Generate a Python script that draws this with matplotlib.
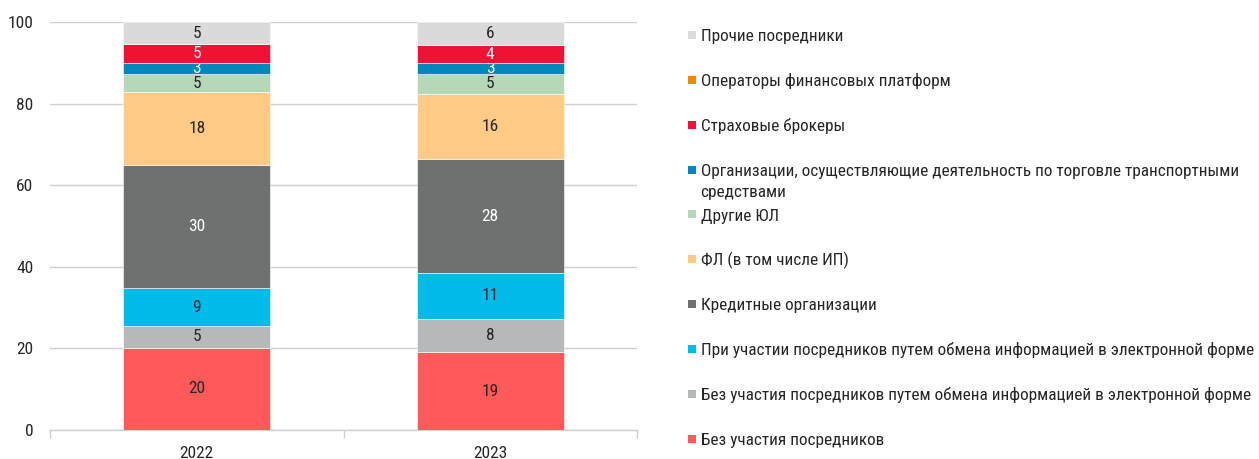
import matplotlib
matplotlib.use('Agg')
import matplotlib.pyplot as plt
from matplotlib import font_manager
import numpy as np

# pick the narrowest installed family
installed = {f.name for f in font_manager.fontManager.ttflist}
candidates = ['Roboto Condensed', 'Liberation Sans Narrow', 'Open Sans Condensed',
              'Noto Sans Display', 'Lato']
family = next((c for c in candidates if c in installed), 'DejaVu Sans')
plt.rcParams['font.family'] = [family, 'DejaVu Sans']

years = ['2022', '2023']

# series from bottom of the stack to the top
series = [
    'Без участия посредников',
    'Без участия посредников путем обмена информацией в электронной форме',
    'При участии посредников путем обмена информацией в электронной форме',
    'Кредитные организации',
    'ФЛ (в том числе ИП)',
    'Другие ЮЛ',
    'Организации, осуществляющие деятельность по торговле транспортными\nсредствами',
    'Страховые брокеры',
    'Операторы финансовых платформ',
    'Прочие посредники',
]
values_2022 = [20.1, 5.4, 9.2, 30.2, 17.9, 4.6, 2.7, 4.6, 0.0, 5.3]
values_2023 = [19.0, 8.3, 11.1, 28.0, 16.0, 5.0, 2.6, 4.4, 0.0, 5.6]

colors = ['#FF5A5A', '#B7B8BA', '#00BBEA', '#6F7070', '#FECA86',
          '#B7D7B9', '#0088BB', '#EF1235', '#EE8A00', '#DADADA']
label_colors = ['#262626', '#262626', '#262626', 'white', '#262626',
                '#262626', 'white', 'white', '#262626', '#262626']
text_color = '#262626'
grid_color = '#D0D0D0'

fig = plt.figure(figsize=(12.59, 4.59), dpi=100)
ax = fig.add_axes([50 / 1259, 29.2 / 459, 587 / 1259, 407.5 / 459])

x = np.arange(len(years))
bottom = np.zeros(len(years))
for i, name in enumerate(series):
    vals = np.array([values_2022[i], values_2023[i]])
    bars = ax.bar(x, vals, width=0.5, bottom=bottom, color=colors[i],
                  edgecolor='white', linewidth=0.4, zorder=3)
    labels = [f'{v:.0f}' if v > 0 else '' for v in vals]
    ax.bar_label(bars, labels=labels, label_type='center',
                 color=label_colors[i], fontsize=12.5)
    bottom += vals

ax.set_xlim(-0.5, 1.5)
ax.set_ylim(0, 100)
ax.set_yticks(np.arange(0, 101, 20))
ax.yaxis.grid(True, color=grid_color, linewidth=1)
ax.set_axisbelow(True)
ax.tick_params(axis='y', length=0, pad=12, labelsize=12.5, labelcolor=text_color)
ax.set_xticks(x)
ax.set_xticklabels(years)
ax.set_xticks([-0.5, 0.5, 1.5], minor=True)
ax.tick_params(axis='x', which='major', length=0, pad=12, labelsize=12.5,
               labelcolor=text_color)
ax.tick_params(axis='x', which='minor', length=6, color=grid_color, width=1)
for side in ['left', 'right', 'top']:
    ax.spines[side].set_visible(False)
ax.spines['bottom'].set_color(grid_color)
ax.spines['bottom'].set_linewidth(1)

# legend drawn in its own axes, top entry first
leg = fig.add_axes([687 / 1259, 0, 570 / 1259, 1])
leg.set_xlim(0, 1)
leg.set_ylim(9.452, -0.780)
leg.axis('off')
for row, i in enumerate(range(len(series) - 1, -1, -1)):
    leg.scatter([0.008], [row], marker='s', s=40, color=colors[i], linewidths=0)
    # one text per line so the first line stays level with the square
    for k, line in enumerate(series[i].split('\n')):
        leg.annotate(line, xy=(0.008, row), xytext=(6.5, -4.4 - 15.5 * k),
                     textcoords='offset points', va='baseline', ha='left',
                     fontsize=12.4, color=text_color)

fig.savefig('out.png', dpi=100)
